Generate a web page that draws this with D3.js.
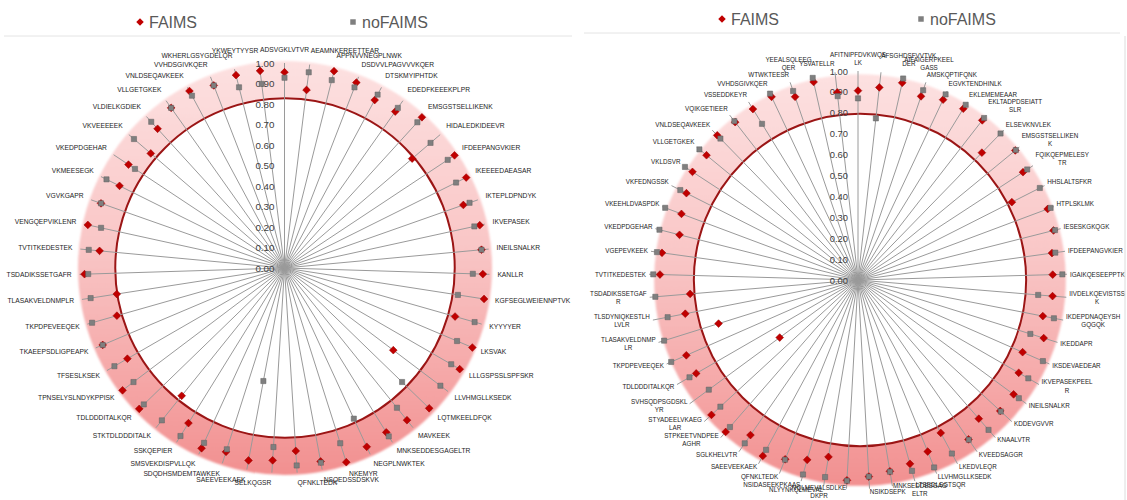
<!DOCTYPE html>
<html>
<head>
<meta charset="utf-8">
<script src="https://cdn.jsdelivr.net/npm/d3@7"></script>
<style>
  body { margin: 0; background: #ffffff; }
  svg { display: block; font-family: "Liberation Sans", Arial, sans-serif; }
</style>
</head>
<body>
<svg id="chart" width="1127" height="500"></svg>
<script>
// ---- data ----------------------------------------------------------------
const seriesNames = ["FAIMS", "noFAIMS"];
const tickValues = [0, 0.1, 0.2, 0.3, 0.4, 0.5, 0.6, 0.7, 0.8, 0.9, 1.0];

const leftCategories = [
  "ADSVGKLVTVR", "AEAMNKEREETTEAR", "APPNVVNEGPLNWK", "DSDVVLPAGVVVKQER", "DTSKMYIPHTDK",
  "EDEDFKEEEKPLPR", "EMSGSTSELLIKENK", "HIDALEDKIDEEVR", "IFDEEPANGVKIER", "IKEEEEDAEASAR",
  "IKTEPLDPNDYK", "IKVEPASEK", "INEILSNALKR", "KANLLR", "KGFSEGLWEIENNPTVK",
  "KYYYYER", "LKSVAK", "LLLGSPSSLSPFSKR", "LLVHMGLLKSEDK", "LQTMKEELDFQK",
  "MAVKEEK", "MNKSEDDESGAGELTR", "NEGPLNWKTEK", "NKEMYR", "NSQEDSSDSKVK",
  "QFNKLTEDK", "SELKQGSR", "SAEEVEEKAEK", "SDQDHSMDEMTAWKEK", "SMSVEKDISPVLLQK",
  "SSKQEPIER", "STKTDLDDDITALK", "TDLDDDITALKQR", "TPNSELYSLNDYKPPISK", "TFSESLKSEK",
  "TKAEEPSDLIGPEAPK", "TKPDPEVEEQEK", "TLASAKVELDNMPLR", "TSDADIKSSETGAFR", "TVTITKEDESTEK",
  "VENGQEPVIKLENR", "VGVKGAPR", "VKMEESEGK", "VKEDPDGEHAR", "VKVEEEEEK",
  "VLDIELKGDIEK", "VLLGETGKEK", "VNLDSEQAVKEEK", "VVHDSGIVKQER", "WKHERLGSYGDELQR",
  "YKWEYTYYSR"
];
const leftFaims = [
  0.955, 0.875, 0.990, 0.970, 0.930, 0.935, 0.995, 0.820, 0.995, 0.990,
  0.925, 0.975, 0.965, 0.968, 0.985, 0.865, 0.995, 0.987, 0.665, 0.983,
  0.953, 0.943, 0.960, 0.994, 0.960, 0.894, 0.940, 0.955, 0.941, 0.968,
  0.890, 0.800, 0.987, 0.990, 0.885, 0.963, 0.850, 0.828, 0.976, 0.906,
  0.982, 0.949, 0.899, 0.913, 0.859, 0.919, 0.957, 0.980, 0.955, 0.970,
  0.969
];
const leftNoFaims = [
  0.928, 0.962, 0.945, 0.945, 0.960, 0.957, 0.962, 0.938, 0.955, 0.935,
  0.957, 0.948, 0.965, 0.919, 0.856, 0.964, 0.914, 0.939, 0.953, 0.799,
  0.875, 0.966, 0.809, 0.897, 0.966, 0.965, 0.875, 0.561, 0.928, 0.939,
  0.964, 0.954, 0.956, 0.923, 0.958, 0.963, 0.976, 0.957, 0.958, 0.959,
  0.916, 0.949, 0.970, 0.875, 0.967, 0.965, 0.957, 0.954, 0.955, 0.909,
  0.905
];

// "\n" marks where a long peptide label wraps onto a second line
const rightCategories = [
  "AFITNIPFDVKWQS\nLK", "AFSGHDSFVVTVK\nDER", "AIFAIGERPKEEL\nGASS", "AMSKQPTIFQNK", "EGVKTENDHINLK",
  "EKLEMEMEAAR", "EKLTADPDSEIATT\nSLR", "ELSEVKNVLEK", "EMSGSTSELLIKEN\nK", "FQIKQEPMELESY\nTR",
  "HHSLALTSFKR", "HTPLSKLMK", "IESESKGKQGK", "IFDEEPANGVKIER", "IGAIKQESEEPPTK",
  "IIVDELKQEVISTSS\nK", "IKDEPDNAQEYSH\nGQGQK", "IKEDDAPR", "IKSDEVAEDEAR", "IKVEPASEKPEEL\nR",
  "INEILSNALKR", "KDDEVGVVR", "KNAALVTR", "KVEEDSAGGR", "LKEDVLEQR",
  "LLVHMGLLKSEDK", "LTSEDLSGTSQR", "MNKSEDDESGAG\nELTR", "NSIKDSEPK", "NQLMEVALSDLKE\nDKPR",
  "NLYYNKQLMEVAL", "NSIDASEEKPKAAS", "QFNKLTEDK", "SAEEVEEKAEK", "SGLKHELVTR",
  "STPKEETVNDPEE\nAGHR", "STYADEELVKAEG\nLAR", "SVHSQDPSGDSKL\nYR", "TDLDDDITALKQR", "TKPDPEVEEQEK",
  "TLASAKVELDNMP\nLR", "TLSDYNIQKESTLH\nLVLR", "TSDADIKSSETGAF\nR", "TVTITKEDESTEK", "VGEPEVKEEK",
  "VKEDPDGEHAR", "VKEEHLDVASPDK", "VKFEDNGSSK", "VKLDSVR", "VLLGETGKEK",
  "VNLDSEQAVKEEK", "VQIKGETIEER", "VSSEDDKEYR", "VVHDSGIVKQER", "WTWKTEESR",
  "YEEALSQLEEG\nQER", "YSVATELLR"
];
const rightFaims = [
  0.906, 0.927, 0.967, 0.929, 0.954, 0.962, 0.968, 0.850, 0.975, 0.943,
  0.825, 0.969, 0.965, 0.937, 0.932, 0.934, 0.901, 0.931, 0.860, 0.888,
  0.924, 0.925, 0.880, 0.928, 0.832, 0.886, 0.914, 0.928, 0.942, 0.960,
  0.858, 0.894, 0.926, 0.957, 0.903, 0.964, 0.953, 0.465, 0.894, 0.897,
  0.699, 0.842, 0.806, 0.948, 0.947, 0.881, 0.902, 0.920, 0.946, 0.939,
  0.966, 0.957, 0.960, 0.969, 0.927, 0.971, 0.903
];
const rightNoFaims = [
  0.869, 0.778, 0.988, 0.960, 0.982, 0.984, 0.982, 0.978, 0.978, 0.967,
  0.975, 0.984, 0.972, 0.953, 0.978, 0.865, 0.955, 0.864, 0.966, 0.941,
  0.955, 0.929, 0.951, 0.930, 0.944, 0.968, 0.949, 0.930, 0.942, 0.962,
  0.956, 0.967, 0.928, 0.924, 0.951, 0.933, 0.895, 0.886, 0.931, 0.976,
  0.972, 0.928, 0.973, 0.980, 0.971, 0.980, 0.985, 0.953, 0.989, 0.983,
  0.944, 0.963, 0.877, 0.986, 0.956, 0.991, 0.885
];

// ---- shared definitions ----------------------------------------------------
const svg = d3.select("#chart");
const defs = svg.append("defs");

const ringGrad = defs.append("linearGradient")
  .attr("id", "ringFill").attr("x1", 0).attr("y1", 0).attr("x2", 0).attr("y2", 1);
ringGrad.selectAll("stop")
  .data([[0, "#fde1e1"], [0.45, "#f9c6c6"], [1, "#f29090"]])
  .join("stop")
  .attr("offset", d => d[0])
  .attr("stop-color", d => d[1]);

defs.append("filter").attr("id", "soft")
  .attr("x", "-10%").attr("y", "-10%").attr("width", "120%").attr("height", "120%")
  .append("feGaussianBlur").attr("stdDeviation", 1.3);

const faimsColor = "#c00000";
const noFaimsColor = "#7f7f7f";
const diamond = d3.symbol(d3.symbolSquare, 30)();
const square = d3.symbol(d3.symbolSquare, 30)();

// ---- one radar panel -------------------------------------------------------
function drawRadar(cfg) {
  const g = svg.append("g");
  const r = d3.scaleLinear().domain([0, 1]).range([0, cfg.radius]);
  const angle = d3.scaleBand().domain(cfg.categories).range([0, 2 * Math.PI]);
  const pos = (c, v) => [
    cfg.cx + r(v) * Math.sin(angle(c)),
    cfg.cy - r(v) * Math.cos(angle(c))
  ];

  // faint separator under the legend
  g.append("line")
    .attr("x1", cfg.sepX[0]).attr("x2", cfg.sepX[1])
    .attr("y1", cfg.sepY).attr("y2", cfg.sepY)
    .attr("stroke", "#e4e4e4").attr("stroke-width", 1);

  // pink band with the dark red inner ring
  g.append("circle")
    .attr("cx", cfg.ringCx).attr("cy", cfg.cy)
    .attr("r", r(cfg.ringOuter))
    .attr("fill", "url(#ringFill)")
    .attr("filter", "url(#soft)");
  g.append("circle")
    .attr("cx", cfg.ringCx).attr("cy", cfg.cy)
    .attr("r", r(cfg.ringInner))
    .attr("fill", "#ffffff")
    .attr("stroke", "#9b1515")
    .attr("stroke-width", 2);

  // category spokes
  g.append("g").selectAll("line")
    .data(cfg.categories)
    .join("line")
    .attr("x1", cfg.cx).attr("y1", cfg.cy)
    .attr("x2", c => pos(c, 1)[0])
    .attr("y2", c => pos(c, 1)[1])
    .attr("stroke", "#9a9a9a")
    .attr("stroke-width", 1);

  // value axis labels along the first spoke
  g.append("g").selectAll("text")
    .data(tickValues)
    .join("text")
    .attr("x", cfg.cx - 10)
    .attr("y", d => cfg.cy - r(d))
    .attr("text-anchor", "end")
    .attr("dominant-baseline", "central")
    .attr("font-size", cfg.tickFont)
    .attr("fill", "#404040")
    .text(d3.format(".2f"));

  // FAIMS markers (diamonds)
  g.append("g").selectAll("path")
    .data(cfg.categories.map((c, i) => [c, cfg.faims[i]]))
    .join("path")
    .attr("d", diamond)
    .attr("transform", d => {
      const p = pos(d[0], d[1]);
      return `translate(${p[0]},${p[1]}) rotate(45)`;
    })
    .attr("fill", faimsColor)
    .attr("stroke", "#9a0000")
    .attr("stroke-width", 0.5);

  // noFAIMS markers (squares)
  g.append("g").selectAll("path")
    .data(cfg.categories.map((c, i) => [c, cfg.noFaims[i]]))
    .join("path")
    .attr("d", square)
    .attr("transform", d => {
      const p = pos(d[0], d[1]);
      return `translate(${p[0]},${p[1]}) scale(0.95)`;
    })
    .attr("fill", noFaimsColor)
    .attr("stroke", "#5e5e5e")
    .attr("stroke-width", 0.5);

  // category labels, placed just outside the outer ring
  const lh = cfg.labelFont * 1.27;
  const labels = g.append("g")
    .attr("font-size", cfg.labelFont)
    .attr("fill", "#1c1c1c");
  cfg.categories.forEach(c => {
    const a = angle(c);
    const s = Math.sin(a), co = Math.cos(a);
    const px = cfg.cx + (r(1) + cfg.labelGap) * s;
    const py = cfg.cy - (r(1) + cfg.labelGap) * co;
    const lines = c.split("\n");
    const t = labels.append("text").attr("text-anchor", "middle");
    const spans = lines.map(l => t.append("tspan").text(l));
    const w = d3.max(spans, sp => sp.node().getComputedTextLength());
    const h = lines.length * lh;
    let left;
    if (s > 0.04) left = px;
    else if (s < -0.04) left = px - w;
    else left = px - w / 2;
    // blocks above the centre sit on the anchor; blocks below hang only partly
    const cyBlock = co > 0
      ? py - co * (h / 2 + 1.5)
      : py - co * (h / 2) * cfg.belowShift;
    spans.forEach((sp, i) => {
      sp.attr("x", left + w / 2)
        .attr("y", cyBlock - h / 2 + lh * (i + 0.5))
        .attr("dominant-baseline", "central");
    });
  });

  // legend
  const lg = g.append("g").attr("font-size", 16).attr("fill", "#595959");
  lg.append("path").attr("d", d3.symbol(d3.symbolSquare, 28)())
    .attr("transform", `translate(${cfg.legend[0]},${cfg.legendY}) rotate(45)`)
    .attr("fill", faimsColor);
  lg.append("text").attr("x", cfg.legend[0] + 9).attr("y", cfg.legendY)
    .attr("dominant-baseline", "central").text(seriesNames[0]);
  lg.append("path").attr("d", d3.symbol(d3.symbolSquare, 30)())
    .attr("transform", `translate(${cfg.legend[1]},${cfg.legendY})`)
    .attr("fill", noFaimsColor);
  lg.append("text").attr("x", cfg.legend[1] + 9).attr("y", cfg.legendY)
    .attr("dominant-baseline", "central").text(seriesNames[1]);
}

drawRadar({
  categories: leftCategories, faims: leftFaims, noFaims: leftNoFaims,
  cx: 284.5, cy: 268, ringCx: 285, radius: 205,
  ringInner: 0.828, ringOuter: 1.01,
  labelGap: 8, belowShift: 0.5, labelFont: 6.7, tickFont: 9.8,
  legend: [140, 353], legendY: 22,
  sepX: [4, 572], sepY: 36
});

drawRadar({
  categories: rightCategories, faims: rightFaims, noFaims: rightNoFaims,
  cx: 858, cy: 280, ringCx: 860, radius: 209,
  ringInner: 0.795, ringOuter: 0.985,
  labelGap: 3, belowShift: 0, labelFont: 6.3, tickFont: 9.4,
  legend: [722, 921], legendY: 19,
  sepX: [584, 1120], sepY: 33
});

// right-hand frame edge
svg.append("line")
  .attr("x1", 1125).attr("x2", 1125).attr("y1", 36).attr("y2", 500)
  .attr("stroke", "#dcdcdc");
</script>
</body>
</html>
